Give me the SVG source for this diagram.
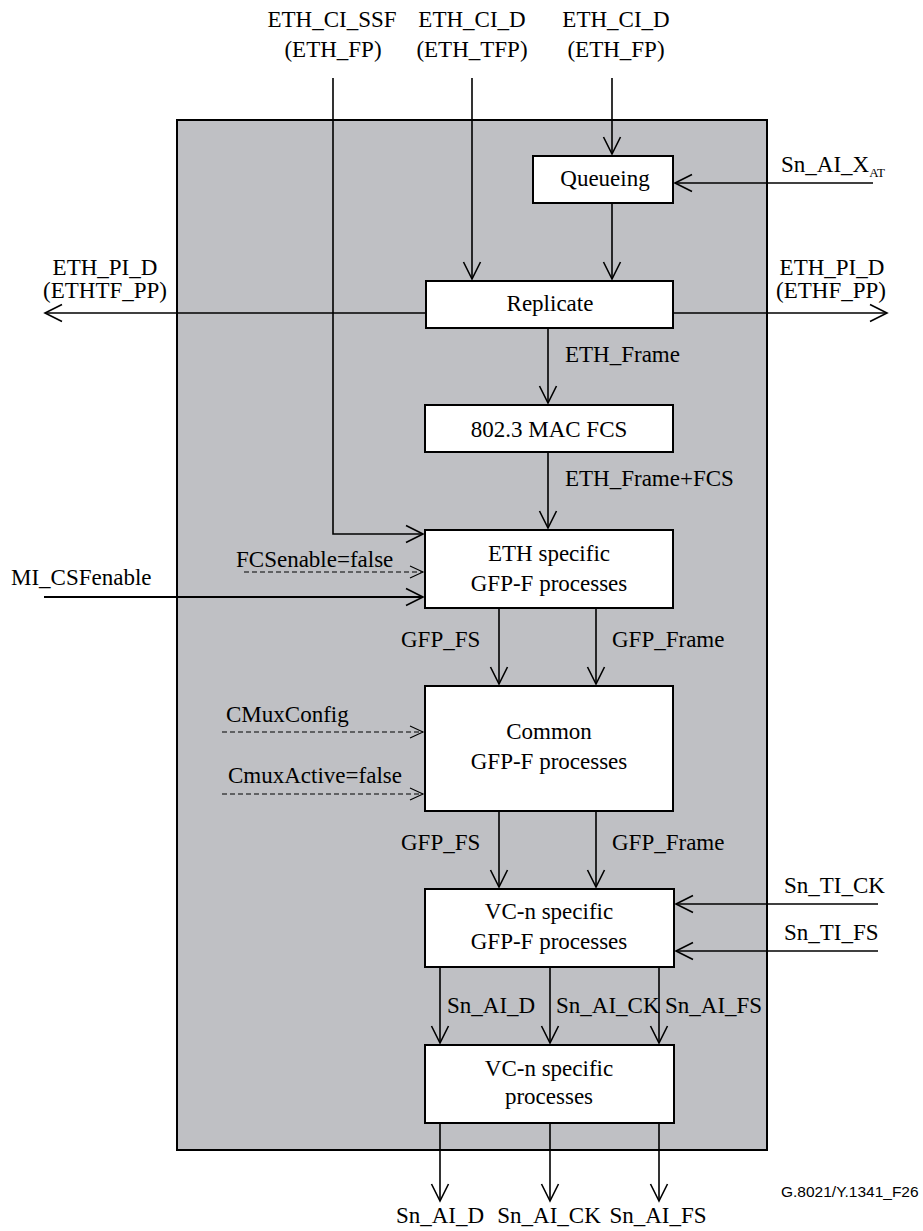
<svg xmlns="http://www.w3.org/2000/svg" width="923" height="1231" viewBox="0 0 923 1231">
<defs>
<style>
text{font-family:'Liberation Serif','Times New Roman',Times,'DejaVu Serif',serif;font-size:23px;fill:#000}
.c{text-anchor:middle}
.box{fill:#fff;stroke:#000;stroke-width:2}
.ln{fill:none;stroke:#000;stroke-width:1.6}
.th{fill:none;stroke:#000;stroke-width:2.2}
.ds{fill:none;stroke:#000;stroke-width:1.2;stroke-dasharray:5,3}
text.fig{font-family:'Liberation Sans',Arial,sans-serif;font-size:15.5px}
</style>
<marker id="ar" markerUnits="userSpaceOnUse" viewBox="-19 -10 21 20" markerWidth="21" markerHeight="20" refX="0" refY="0" orient="auto">
<path d="M-17,-8.5 L0,0 L-17,8.5" fill="none" stroke="#000" stroke-width="1.6"/>
</marker>
<marker id="ard" markerUnits="userSpaceOnUse" viewBox="-15 -8 17 16" markerWidth="17" markerHeight="16" refX="0" refY="0" orient="auto">
<path d="M-13,-6 L0,0 L-13,6" fill="none" stroke="#000" stroke-width="1.1"/>
</marker>
</defs>
<rect width="923" height="1231" fill="#fff"/>
<g id="container">
<rect x="177" y="120" width="590" height="1030" fill="#bfc0c4" stroke="#000" stroke-width="2"/>
</g>
<g id="connectors">
<path class="ln" d="M333,78 V534 H423" marker-end="url(#ar)"/>
<path class="ln" d="M472,78 V279" marker-end="url(#ar)"/>
<path class="ln" d="M612,78 V154" marker-end="url(#ar)"/>
<path class="ln" d="M873,183 H675" marker-end="url(#ar)"/>
<path class="ln" d="M612,203 V279" marker-end="url(#ar)"/>
<path class="ln" d="M426,313 H45" marker-end="url(#ar)"/>
<path class="ln" d="M673,313 H887" marker-end="url(#ar)"/>
<path class="ln" d="M548,328 V403" marker-end="url(#ar)"/>
<path class="ln" d="M548,452 V528" marker-end="url(#ar)"/>
<path class="ds" d="M244,572 H423" marker-end="url(#ard)"/>
<path class="th" d="M44,597 H423" marker-end="url(#ar)"/>
<path class="ln" d="M499,608 V684" marker-end="url(#ar)"/>
<path class="ln" d="M596,608 V684" marker-end="url(#ar)"/>
<path class="ds" d="M222,732 H423" marker-end="url(#ard)"/>
<path class="ds" d="M222,794 H423" marker-end="url(#ard)"/>
<path class="ln" d="M499,811 V887" marker-end="url(#ar)"/>
<path class="ln" d="M596,811 V887" marker-end="url(#ar)"/>
<path class="ln" d="M878,904 H676" marker-end="url(#ar)"/>
<path class="ln" d="M878,951 H676" marker-end="url(#ar)"/>
<path class="ln" d="M440,967 V1043" marker-end="url(#ar)"/>
<path class="ln" d="M550,967 V1043" marker-end="url(#ar)"/>
<path class="ln" d="M659,967 V1043" marker-end="url(#ar)"/>
<path class="ln" d="M440,1123 V1201" marker-end="url(#ar)"/>
<path class="ln" d="M550,1123 V1201" marker-end="url(#ar)"/>
<path class="ln" d="M659,1123 V1201" marker-end="url(#ar)"/>
</g>
<g id="queueing">
<rect class="box" x="533" y="156" width="140" height="47"/>
<text class="c" x="605" y="186">Queueing</text>
</g>
<g id="replicate">
<rect class="box" x="426" y="281" width="247" height="47"/>
<text class="c" x="550" y="311">Replicate</text>
</g>
<g id="mac-fcs">
<rect class="box" x="425" y="405" width="248" height="47"/>
<text class="c" x="549" y="437">802.3 MAC FCS</text>
</g>
<g id="eth-specific">
<rect class="box" x="425" y="530" width="248" height="78"/>
<text class="c" x="549" y="561">ETH specific</text>
<text class="c" x="549" y="591">GFP-F processes</text>
</g>
<g id="common">
<rect class="box" x="425" y="686" width="248" height="125"/>
<text class="c" x="549" y="739">Common</text>
<text class="c" x="549" y="769">GFP-F processes</text>
</g>
<g id="vcn-gfp">
<rect class="box" x="425" y="889" width="249" height="78"/>
<text class="c" x="549" y="919">VC-n specific</text>
<text class="c" x="549" y="949">GFP-F processes</text>
</g>
<g id="vcn-proc">
<rect class="box" x="425" y="1045" width="249" height="78"/>
<text class="c" x="549" y="1076">VC-n specific</text>
<text class="c" x="549" y="1104">processes</text>
</g>
<g id="labels">
<text class="c" x="332" y="27">ETH_CI_SSF</text>
<text class="c" x="333" y="57">(ETH_FP)</text>
<text class="c" x="472" y="27">ETH_CI_D</text>
<text class="c" x="472" y="57">(ETH_TFP)</text>
<text class="c" x="616" y="27">ETH_CI_D</text>
<text class="c" x="616" y="57">(ETH_FP)</text>
<text x="781" y="172">Sn_AI_X<tspan font-size="13" dy="5">AT</tspan></text>
<text class="c" x="105" y="275">ETH_PI_D</text>
<text class="c" x="105" y="298">(ETHTF_PP)</text>
<text class="c" x="832" y="275">ETH_PI_D</text>
<text class="c" x="831" y="298">(ETHF_PP)</text>
<text x="565" y="362">ETH_Frame</text>
<text x="565" y="486">ETH_Frame+FCS</text>
<text x="236" y="567">FCSenable=false</text>
<text x="11" y="585">MI_CSFenable</text>
<text x="401" y="647">GFP_FS</text>
<text x="612" y="647">GFP_Frame</text>
<text x="226" y="722">CMuxConfig</text>
<text x="228" y="783">CmuxActive=false</text>
<text x="401" y="850">GFP_FS</text>
<text x="612" y="850">GFP_Frame</text>
<text x="784" y="893">Sn_TI_CK</text>
<text x="784" y="940">Sn_TI_FS</text>
<text x="447" y="1013">Sn_AI_D</text>
<text x="556" y="1013">Sn_AI_CK</text>
<text x="665" y="1013">Sn_AI_FS</text>
<text class="c" x="440" y="1223">Sn_AI_D</text>
<text class="c" x="549" y="1223">Sn_AI_CK</text>
<text class="c" x="658" y="1223">Sn_AI_FS</text>
<text class="fig" x="781" y="1197">G.8021/Y.1341_F26</text>
</g>
</svg>
